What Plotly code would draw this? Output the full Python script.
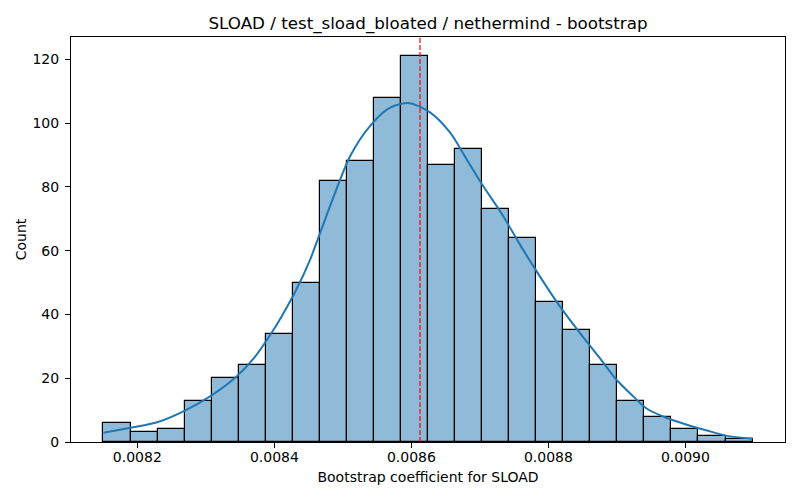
import numpy as np
import plotly.graph_objects as go

# histogram of bootstrap coefficients (24 equal bins)
bin_left = 0.0081505
bin_right = 0.009098
counts = [6, 3, 4, 13, 20, 24, 34, 50, 82, 88, 108, 121,
          87, 92, 73, 64, 44, 35, 24, 13, 8, 4, 2, 1]

# kde curve
kde_x = [0.0081505, 0.0081902, 0.0082291, 0.0082679, 0.0083068, 0.0083456,
         0.0083698, 0.0083990, 0.0084135, 0.0084306, 0.0084524, 0.0084670,
         0.0085107, 0.0085398, 0.0085689, 0.0085970, 0.0086272, 0.0086563,
         0.0086806, 0.0087048, 0.0087339, 0.0087583, 0.0087826, 0.0088165,
         0.0088456, 0.0088748, 0.0088991, 0.0089233, 0.0089428, 0.0089719,
         0.0090010, 0.0090302, 0.0090593, 0.0090980]
kde_y = [2.9, 4.5, 6.2, 9.7, 14.4, 20.7,
         26.2, 35.3, 40.5, 47.2, 57.3, 65.7,
         89.7, 99.2, 104.9, 106.3, 103.4, 97.1,
         88.7, 80.3, 70.9, 62.0, 53.6, 42.6,
         34.3, 26.4, 19.6, 14.4, 10.6, 7.6,
         5.5, 3.7, 2.0, 1.0]

point_estimate = 0.0086126

x_ticks = [0.0082, 0.0084, 0.0086, 0.0088, 0.0090]
y_ticks = [0, 20, 40, 60, 80, 100, 120]

edges = np.linspace(bin_left, bin_right, len(counts) + 1)
centers = (edges[:-1] + edges[1:]) / 2
width = edges[1] - edges[0]

fig = go.Figure()

fig.add_trace(go.Bar(
    x=centers,
    y=counts,
    width=width,
    marker=dict(color='#8fbbd9', line=dict(color='black', width=1.2)),
    hoverinfo='x+y'
))

fig.add_trace(go.Scatter(
    x=kde_x,
    y=kde_y,
    mode='lines',
    line=dict(color='#1f77b4', width=2, shape='spline', smoothing=0.8),
    hoverinfo='skip'
))

fig.add_shape(type='line', x0=point_estimate, x1=point_estimate, xref='x',
              y0=0, y1=1, yref='paper',
              line=dict(color='red', width=1.2, dash='5px,2px'))

axis_style = dict(
    showgrid=False, zeroline=False, automargin=False,
    showline=True, linecolor='black', linewidth=1, mirror=True,
    ticks='outside', ticklen=5, tickcolor='black',
    tickfont=dict(size=14, color='black'),
)

# page body adds an 8px offset, so the figure is 8px smaller than the window
span = bin_right - bin_left
fig.update_layout(
    width=792, height=492,
    margin=dict(l=63, r=15, t=29, b=58),
    plot_bgcolor='white', paper_bgcolor='white',
    font=dict(family='DejaVu Sans', color='black'),
    showlegend=False,
    bargap=0,
    title=dict(text='SLOAD / test_sload_bloated / nethermind - bootstrap',
               xref='paper', x=0.5, xanchor='center',
               y=0.97, yanchor='middle',
               font=dict(size=16.7)),
    xaxis=dict(axis_style, range=[bin_left - 0.05 * span, bin_right + 0.05 * span],
               tickvals=x_ticks, ticktext=[f'{t:.4f}' for t in x_ticks],
               ticklabelstandoff=-3,
               title=dict(text='Bootstrap coefficient for SLOAD', font=dict(size=14), standoff=8)),
    yaxis=dict(axis_style, range=[0, max(counts) * 1.05], tickvals=y_ticks,
               ticklabelstandoff=3,
               title=dict(text='Count', font=dict(size=14), standoff=2)),
)

fig.write_html("out.html")
